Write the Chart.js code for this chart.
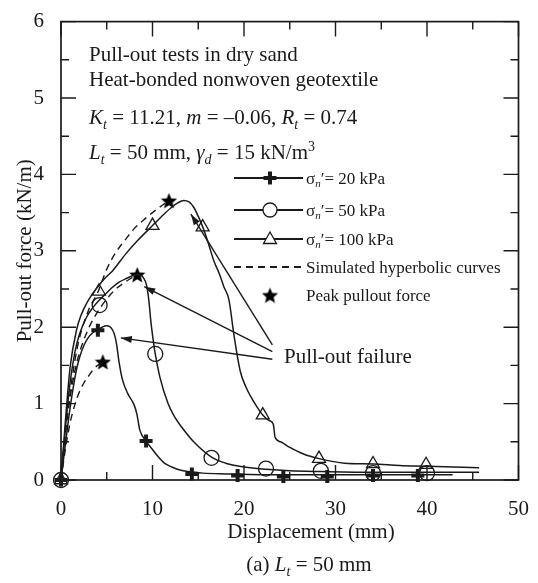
<!DOCTYPE html>
<html>
<head>
<meta charset="utf-8">
<script src="https://cdn.jsdelivr.net/npm/chart.js@4"></script>
<style>
  html, body { margin: 0; padding: 0; background: #fff; }
  #wrap { width: 538px; height: 583px; }
</style>
</head>
<body>
<div id="wrap"><canvas id="pullout-chart" width="538" height="583"></canvas></div>
<script>
// ===== Pull-out test curves, Lt = 50 mm =====

const SERIF = "'Liberation Serif', 'Times New Roman', serif";
const INK = '#1a1a1a';

// measured curves (displacement mm / force kN/m)
const curve20X = [0, 0.3, 0.64, 1.0, 1.35, 1.7, 2.07, 2.5, 2.96, 3.5, 4.03, 4.5, 4.93, 5.3, 5.65, 5.9, 6.1, 6.3, 6.7, 7.3, 8.0, 8.3, 8.6, 9.3, 10.0, 10.65, 11.3, 12.1, 13.0, 13.9, 15.5, 18, 22, 27, 32, 37, 42.8];
const curve20Y = [0, 0.3, 0.62, 0.95, 1.22, 1.45, 1.62, 1.76, 1.86, 1.93, 1.97, 2.0, 2.02, 2.01, 1.96, 1.88, 1.76, 1.58, 1.32, 1.13, 0.98, 0.86, 0.66, 0.51, 0.4, 0.3, 0.22, 0.17, 0.13, 0.11, 0.09, 0.08, 0.07, 0.07, 0.07, 0.07, 0.07];

const curve50X = [0, 0.5, 1.0, 1.53, 2.0, 2.79, 3.5, 4.22, 4.93, 5.5, 6.36, 7.2, 7.97, 8.5, 9.0, 9.35, 9.6, 9.8, 10.0, 10.3, 10.8, 11.7, 12.4, 13.2, 14.5, 16.45, 18.0, 19.5, 22.4, 25, 28.4, 34.1, 40, 45.7];
const curve50Y = [0, 0.7, 1.28, 1.68, 1.9, 2.13, 2.26, 2.36, 2.44, 2.51, 2.59, 2.64, 2.68, 2.69, 2.65, 2.55, 2.35, 2.1, 1.9, 1.65, 1.35, 1.0, 0.83, 0.69, 0.5, 0.3, 0.22, 0.18, 0.14, 0.12, 0.11, 0.1, 0.1, 0.1];

const curve100X = [0, 0.5, 1.0, 1.71, 2.2, 2.79, 3.4, 4.03, 4.8, 5.65, 7.08, 8.5, 10.0, 11.0, 12.0, 12.8, 13.4, 14.0, 14.5, 15.0, 15.5, 16.1, 16.7, 17.3, 17.8, 18.35, 18.9, 19.6, 20.2, 20.7, 21.4, 22.05, 22.7, 23.2, 23.4, 24.0, 24.96, 26.5, 28.2, 31, 34.1, 37, 40, 45.7];
const curve100Y = [0, 0.8, 1.48, 1.97, 2.16, 2.31, 2.43, 2.53, 2.64, 2.74, 2.96, 3.15, 3.33, 3.45, 3.56, 3.63, 3.66, 3.64, 3.57, 3.45, 3.31, 3.1, 2.87, 2.7, 2.53, 2.36, 1.9, 1.42, 1.22, 1.1, 0.96, 0.85, 0.78, 0.73, 0.56, 0.5, 0.43, 0.34, 0.28, 0.22, 0.21, 0.19, 0.18, 0.16];

// marker positions on each curve
const marks20X = [0, 4.03, 9.3, 14.3, 19.3, 24.3, 29.1, 34.1, 39.0];
const marks20Y = [0, 1.96, 0.51, 0.08, 0.06, 0.045, 0.045, 0.06, 0.06];
const marks50X = [0, 4.22, 10.3, 16.45, 22.4, 28.4, 34.1, 40.0];
const marks50Y = [0, 2.29, 1.65, 0.29, 0.15, 0.12, 0.09, 0.09];
const marks100X = [0, 4.15, 10.0, 15.48, 22.05, 28.2, 34.1, 39.9];
const marks100Y = [0, 2.47, 3.33, 3.31, 0.85, 0.28, 0.21, 0.2];

// simulated hyperbolic curves, up to the peak
const sim20X = [0, 0.5, 1.0, 1.5, 2.0, 2.5, 3.0, 3.5, 4.0, 4.57];
const sim20Y = [0, 0.42, 0.75, 0.98, 1.15, 1.27, 1.36, 1.44, 1.5, 1.55];
const sim50X = [0, 0.5, 1.0, 1.5, 2.0, 3.0, 4.0, 5.0, 6.0, 7.0, 8.33];
const sim50Y = [0, 0.62, 1.08, 1.42, 1.66, 1.98, 2.2, 2.37, 2.5, 2.59, 2.69];
const sim100X = [0, 0.5, 1.0, 1.5, 2.0, 3.0, 4.0, 5.0, 6.0, 7.0, 8.0, 9.0, 10.0, 11.0, 11.8];
const sim100Y = [0, 0.65, 1.15, 1.55, 1.85, 2.22, 2.45, 2.76, 2.98, 3.14, 3.29, 3.4, 3.5, 3.59, 3.66];

// peak pullout force
const peakX = [4.57, 8.33, 11.8];
const peakY = [1.55, 2.69, 3.66];

// "Pull-out failure" arrows: tips on the curves, common tail
const failTipX = [6.54, 9.1, 14.2];
const failTipY = [1.86, 2.53, 3.48];
const failTailX = 23.1;
const failTailY = [1.58, 1.68, 1.77];

const xTickVals = [0, 10, 20, 30, 40, 50];
const xMinorVals = [5, 15, 25, 35, 45];
const yTickVals = [0, 1, 2, 3, 4, 5, 6];
const yMinorVals = [0.5, 1.5, 2.5, 3.5, 4.5, 5.5];

const pts = (xs, ys) => xs.map((x, i) => ({ x, y: ys[i] }));

function makeStar(size) {
  const c = document.createElement('canvas');
  c.width = c.height = size;
  const g = c.getContext('2d');
  const r = size / 2, ri = r * 0.45;
  g.beginPath();
  for (let i = 0; i < 10; i++) {
    const a = -Math.PI / 2 + i * Math.PI / 5;
    const rr = i % 2 ? ri : r;
    g.lineTo(r + rr * Math.cos(a), r + 1 + rr * Math.sin(a));
  }
  g.closePath();
  g.fillStyle = '#000';
  g.fill();
  return c;
}
const STAR = makeStar(17);

const curveStyle = {
  borderColor: INK, borderWidth: 1.5, pointRadius: 0,
  cubicInterpolationMode: 'monotone', fill: false,
};
const simStyle = { ...curveStyle, borderWidth: 1.4, borderDash: [7, 5] };
const markStyle = {
  showLine: false, clip: false, borderColor: INK, backgroundColor: 'rgba(0,0,0,0)',
  pointBorderColor: INK, pointBackgroundColor: 'rgba(0,0,0,0)',
};

// --- text helpers (italic, sub/superscripts) ---
function fontFor(r, size) {
  const s = (r.sub || r.sup) ? Math.round(size * 0.66) : size;
  return `${r.it ? 'italic ' : ''}${s}px ${SERIF}`;
}
function drawRuns(ctx, x, y, size, runs, align) {
  const widths = runs.map(r => {
    ctx.font = fontFor(r, size);
    return ctx.measureText(r.t).width;
  });
  const total = widths.reduce((a, b) => a + b, 0);
  let cx = align === 'center' ? x - total / 2 : x;
  runs.forEach((r, i) => {
    ctx.font = fontFor(r, size);
    const dy = r.sub ? size * 0.22 : r.sup ? -size * 0.4 : 0;
    ctx.fillText(r.t, cx, y + dy);
    cx += widths[i];
  });
}

function drawMark(ctx, style, x, y) {
  ctx.save();
  ctx.strokeStyle = INK;
  ctx.fillStyle = INK;
  if (style === 'cross') {
    ctx.lineWidth = 4;
    ctx.beginPath();
    ctx.moveTo(x - 6.5, y); ctx.lineTo(x + 6.5, y);
    ctx.moveTo(x, y - 6.5); ctx.lineTo(x, y + 6.5);
    ctx.stroke();
  } else if (style === 'circle') {
    ctx.lineWidth = 1.3;
    ctx.fillStyle = '#fff';
    ctx.beginPath(); ctx.arc(x, y, 7, 0, Math.PI * 2); ctx.fill(); ctx.stroke();
  } else if (style === 'triangle') {
    ctx.lineWidth = 1.3;
    ctx.fillStyle = '#fff';
    ctx.beginPath();
    ctx.moveTo(x, y - 7); ctx.lineTo(x + 6.5, y + 4.5); ctx.lineTo(x - 6.5, y + 4.5);
    ctx.closePath(); ctx.fill(); ctx.stroke();
  } else if (style === 'star') {
    ctx.drawImage(STAR, x - STAR.width / 2, y - STAR.height / 2);
  }
  ctx.restore();
}

const legendRows = [
  { kind: 'line', mark: 'cross', kPa: '20' },
  { kind: 'line', mark: 'circle', kPa: '50' },
  { kind: 'line', mark: 'triangle', kPa: '100' },
  { kind: 'dash', label: 'Simulated hyperbolic curves' },
  { kind: 'mark', mark: 'star', label: 'Peak pullout force' },
];

const framePlugin = {
  id: 'frame',
  beforeDatasetsDraw(chart) {
    const { ctx, chartArea: a, scales: { x, y } } = chart;
    ctx.save();
    ctx.strokeStyle = INK;
    ctx.lineWidth = 1.7;
    ctx.strokeRect(a.left, a.top, a.right - a.left, a.bottom - a.top);
    ctx.lineWidth = 1.4;
    ctx.beginPath();
    const xt = (v, len) => {
      const px = x.getPixelForValue(v);
      ctx.moveTo(px, a.bottom); ctx.lineTo(px, a.bottom - len);
      ctx.moveTo(px, a.top); ctx.lineTo(px, a.top + len);
    };
    const yt = (v, len) => {
      const py = y.getPixelForValue(v);
      ctx.moveTo(a.left, py); ctx.lineTo(a.left + len, py);
      ctx.moveTo(a.right, py); ctx.lineTo(a.right - len, py);
    };
    xTickVals.forEach(v => xt(v, 15));
    xMinorVals.forEach(v => xt(v, 8));
    yTickVals.forEach(v => yt(v, 15));
    yMinorVals.forEach(v => yt(v, 8));
    ctx.stroke();
    ctx.restore();
  },
  afterDraw(chart) {
    const { ctx, scales: { x, y } } = chart;
    ctx.save();
    ctx.fillStyle = INK;
    ctx.strokeStyle = INK;
    ctx.textBaseline = 'alphabetic';
    ctx.textAlign = 'left';

    // test description block
    drawRuns(ctx, 89, 61, 21, [{ t: 'Pull-out tests in dry sand' }]);
    drawRuns(ctx, 89, 86, 21, [{ t: 'Heat-bonded nonwoven geotextile' }]);
    drawRuns(ctx, 89, 124, 21, [
      { t: 'K', it: true }, { t: 't', it: true, sub: true }, { t: ' = 11.21, ' },
      { t: 'm', it: true }, { t: ' = \u20130.06, ' },
      { t: 'R', it: true }, { t: 't', it: true, sub: true }, { t: ' = 0.74' },
    ]);
    drawRuns(ctx, 89, 159, 21, [
      { t: 'L', it: true }, { t: 't', it: true, sub: true }, { t: ' = 50 mm, ' },
      { t: '\u03b3', it: true }, { t: 'd', it: true, sub: true }, { t: ' = 15 kN/m' },
      { t: '3', sup: true },
    ]);

    // legend
    const rowY = [178, 210, 239, 267, 295];
    legendRows.forEach((row, i) => {
      const ly = rowY[i];
      if (row.kind !== 'mark') {
        ctx.save();
        ctx.lineWidth = 1.8;
        if (row.kind === 'dash') ctx.setLineDash([7, 5]);
        ctx.beginPath(); ctx.moveTo(234, ly); ctx.lineTo(303, ly); ctx.stroke();
        ctx.restore();
      }
      if (row.mark) drawMark(ctx, row.mark, 270, ly);
      const runs = row.kPa
        ? [{ t: '\u03c3' }, { t: 'n', it: true, sub: true }, { t: '\u2032= ' + row.kPa + ' kPa' }]
        : [{ t: row.label }];
      drawRuns(ctx, 306, ly + 5.5, 17, runs);
    });

    // failure arrows
    ctx.lineWidth = 1.4;
    failTipX.forEach((tx, i) => {
      const x1 = x.getPixelForValue(failTailX), y1 = y.getPixelForValue(failTailY[i]);
      const x2 = x.getPixelForValue(tx), y2 = y.getPixelForValue(failTipY[i]);
      const ang = Math.atan2(y2 - y1, x2 - x1);
      ctx.beginPath(); ctx.moveTo(x1, y1); ctx.lineTo(x2, y2); ctx.stroke();
      ctx.beginPath();
      ctx.moveTo(x2, y2);
      ctx.lineTo(x2 - 11 * Math.cos(ang) + 3.5 * Math.sin(ang), y2 - 11 * Math.sin(ang) - 3.5 * Math.cos(ang));
      ctx.lineTo(x2 - 11 * Math.cos(ang) - 3.5 * Math.sin(ang), y2 - 11 * Math.sin(ang) + 3.5 * Math.cos(ang));
      ctx.closePath(); ctx.fill();
    });
    drawRuns(ctx, 284, 363, 21, [{ t: 'Pull-out failure' }]);

    // x-axis title and caption
    drawRuns(ctx, 311, 538, 21, [{ t: 'Displacement (mm)' }], 'center');
    drawRuns(ctx, 309, 571, 21, [
      { t: '(a) ' }, { t: 'L', it: true }, { t: 't', it: true, sub: true }, { t: ' = 50 mm' },
    ], 'center');
    ctx.restore();
  },
};

const tickFont = { family: SERIF, size: 21 };

new Chart(document.getElementById('pullout-chart').getContext('2d'), {
  type: 'line',
  data: {
    datasets: [
      { ...curveStyle, data: pts(curve20X, curve20Y) },
      { ...curveStyle, data: pts(curve50X, curve50Y) },
      { ...curveStyle, data: pts(curve100X, curve100Y) },
      { ...simStyle, data: pts(sim20X, sim20Y) },
      { ...simStyle, data: pts(sim50X, sim50Y) },
      { ...simStyle, data: pts(sim100X, sim100Y) },
      { ...markStyle, data: pts(marks20X, marks20Y), pointStyle: 'cross', pointRadius: 6.5, pointBorderWidth: 4 },
      { ...markStyle, data: pts(marks50X, marks50Y), pointStyle: 'circle', pointRadius: 7.5, pointBorderWidth: 1.3 },
      { ...markStyle, data: pts(marks100X, marks100Y), pointStyle: 'triangle', pointRadius: 7.5, pointBorderWidth: 1.3 },
      { ...markStyle, data: pts(peakX, peakY), pointStyle: STAR, pointRadius: 8 },
    ],
  },
  options: {
    responsive: false,
    animation: false,
    events: [],
    layout: { padding: { top: 13, right: 11, left: 0, bottom: 0 } },
    plugins: { legend: { display: false }, tooltip: { enabled: false } },
    scales: {
      x: {
        type: 'linear', min: 0, max: 50,
        afterBuildTicks: s => { s.ticks = xTickVals.map(v => ({ value: v })); },
        afterFit: s => { s.height = 103; },
        grid: { display: false },
        border: { display: false },
        ticks: { color: INK, font: tickFont, padding: 9, maxRotation: 0, autoSkip: false },
      },
      y: {
        type: 'linear', min: 0, max: 6,
        afterBuildTicks: s => { s.ticks = yTickVals.map(v => ({ value: v })); },
        afterFit: s => { s.width = 61; },
        grid: { display: false },
        border: { display: false },
        ticks: { color: INK, font: tickFont, padding: 9, autoSkip: false },
        title: {
          display: true, text: 'Pull-out force (kN/m)', color: INK,
          font: { family: SERIF, size: 21 }, padding: { top: 13 },
        },
      },
    },
  },
  plugins: [framePlugin],
});
</script>
</body>
</html>
